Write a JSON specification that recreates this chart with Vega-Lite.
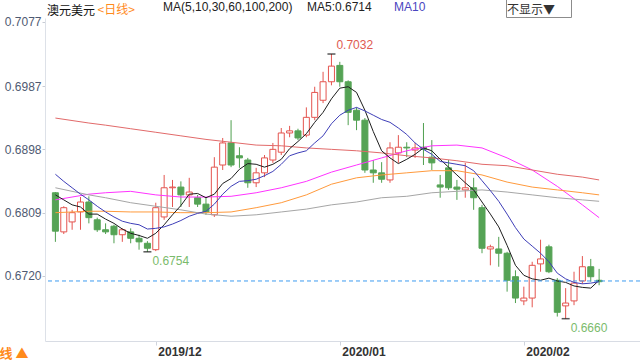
{
  "$schema": "https://vega.github.io/schema/vega-lite/v6.json",
  "width": 595,
  "height": 323,
  "autosize": {"type": "none"},
  "padding": {"left": 45, "top": 18, "right": 0, "bottom": 19},
  "background": "white",
  "config": {"view": {"stroke": null}, "font": "Liberation Sans"},
  "title": {"text": "澳元美元", "anchor": "start", "frame": "group", "dx": 2, "dy": 22, "fontSize": 12, "font": "Noto Sans CJK SC", "fontWeight": "normal", "color": "#111111", "offset": 2},
  "datasets": {
    "k": [
      {"i":0,"o":0.6837,"h":0.6838,"l":0.6768,"c":0.6783,"MA5":0.6834,"MA10":0.6863},
      {"i":1,"o":0.6782,"h":0.6818,"l":0.6779,"c":0.6816,"MA5":0.6827,"MA10":0.6853},
      {"i":2,"o":0.6796,"h":0.6813,"l":0.6785,"c":0.6809,"MA5":0.6820,"MA10":0.6844},
      {"i":3,"o":0.6810,"h":0.6831,"l":0.6785,"c":0.6824,"MA5":0.6817,"MA10":0.6835},
      {"i":4,"o":0.6824,"h":0.6832,"l":0.6794,"c":0.6802,"MA5":0.6807,"MA10":0.6827},
      {"i":5,"o":0.6799,"h":0.6802,"l":0.6782,"c":0.6785,"MA5":0.6807,"MA10":0.6818},
      {"i":6,"o":0.6785,"h":0.6794,"l":0.6779,"c":0.6782,"MA5":0.6800,"MA10":0.6810},
      {"i":7,"o":0.6790,"h":0.6792,"l":0.6766,"c":0.6778,"MA5":0.6794,"MA10":0.6803},
      {"i":8,"o":0.6778,"h":0.6787,"l":0.6768,"c":0.6785,"MA5":0.6786,"MA10":0.6797},
      {"i":9,"o":0.6782,"h":0.6787,"l":0.6766,"c":0.6773,"MA5":0.6780,"MA10":0.6794},
      {"i":10,"o":0.6773,"h":0.6778,"l":0.6757,"c":0.6768,"MA5":0.6777,"MA10":0.6792},
      {"i":11,"o":0.6766,"h":0.6769,"l":0.6754,"c":0.6759,"MA5":0.6773,"MA10":0.6786},
      {"i":12,"o":0.6757,"h":0.6823,"l":0.6755,"c":0.6816,"MA5":0.6780,"MA10":0.6787},
      {"i":13,"o":0.6803,"h":0.6862,"l":0.6799,"c":0.6844,"MA5":0.6792,"MA10":0.6789},
      {"i":14,"o":0.6844,"h":0.6855,"l":0.6817,"c":0.6845,"MA5":0.6806,"MA10":0.6793},
      {"i":15,"o":0.6845,"h":0.6853,"l":0.6817,"c":0.6834,"MA5":0.6819,"MA10":0.6798},
      {"i":16,"o":0.6834,"h":0.6858,"l":0.6817,"c":0.6838,"MA5":0.6835,"MA10":0.6804},
      {"i":17,"o":0.6830,"h":0.6834,"l":0.6817,"c":0.6821,"MA5":0.6836,"MA10":0.6808},
      {"i":18,"o":0.6821,"h":0.6831,"l":0.6806,"c":0.6810,"MA5":0.6830,"MA10":0.6811},
      {"i":19,"o":0.6806,"h":0.6887,"l":0.6803,"c":0.6873,"MA5":0.6835,"MA10":0.6821},
      {"i":20,"o":0.6876,"h":0.6914,"l":0.6869,"c":0.6907,"MA5":0.6850,"MA10":0.6835},
      {"i":21,"o":0.6907,"h":0.6939,"l":0.6873,"c":0.6876,"MA5":0.6857,"MA10":0.6846},
      {"i":22,"o":0.6889,"h":0.6901,"l":0.6872,"c":0.6886,"MA5":0.6870,"MA10":0.6853},
      {"i":23,"o":0.6883,"h":0.6886,"l":0.6844,"c":0.6851,"MA5":0.6878,"MA10":0.6854},
      {"i":24,"o":0.6851,"h":0.6872,"l":0.6845,"c":0.6865,"MA5":0.6877,"MA10":0.6856},
      {"i":25,"o":0.6865,"h":0.6890,"l":0.6859,"c":0.6886,"MA5":0.6873,"MA10":0.6861},
      {"i":26,"o":0.6883,"h":0.6907,"l":0.6879,"c":0.6898,"MA5":0.6877,"MA10":0.6867},
      {"i":27,"o":0.6894,"h":0.6928,"l":0.6890,"c":0.6921,"MA5":0.6884,"MA10":0.6877},
      {"i":28,"o":0.6921,"h":0.6931,"l":0.6915,"c":0.6924,"MA5":0.6899,"MA10":0.6889},
      {"i":29,"o":0.6924,"h":0.6927,"l":0.6911,"c":0.6914,"MA5":0.6909,"MA10":0.6893},
      {"i":30,"o":0.6918,"h":0.6957,"l":0.6915,"c":0.6943,"MA5":0.6920,"MA10":0.6896},
      {"i":31,"o":0.6943,"h":0.6986,"l":0.6939,"c":0.6978,"MA5":0.6936,"MA10":0.6907},
      {"i":32,"o":0.6967,"h":0.7007,"l":0.6963,"c":0.6993,"MA5":0.6950,"MA10":0.6917},
      {"i":33,"o":0.6993,"h":0.7032,"l":0.6988,"c":0.7015,"MA5":0.6969,"MA10":0.6934},
      {"i":34,"o":0.7016,"h":0.7021,"l":0.6986,"c":0.6993,"MA5":0.6984,"MA10":0.6946},
      {"i":35,"o":0.6993,"h":0.6995,"l":0.6932,"c":0.6950,"MA5":0.6986,"MA10":0.6953},
      {"i":36,"o":0.6953,"h":0.6957,"l":0.6925,"c":0.6939,"MA5":0.6978,"MA10":0.6957},
      {"i":37,"o":0.6939,"h":0.6942,"l":0.6865,"c":0.6869,"MA5":0.6953,"MA10":0.6952},
      {"i":38,"o":0.6869,"h":0.6883,"l":0.6851,"c":0.6865,"MA5":0.6923,"MA10":0.6946},
      {"i":39,"o":0.6865,"h":0.6880,"l":0.6851,"c":0.6856,"MA5":0.6896,"MA10":0.6940},
      {"i":40,"o":0.6855,"h":0.6908,"l":0.6851,"c":0.6900,"MA5":0.6886,"MA10":0.6936},
      {"i":41,"o":0.6893,"h":0.6918,"l":0.6879,"c":0.6901,"MA5":0.6878,"MA10":0.6928},
      {"i":42,"o":0.6901,"h":0.6908,"l":0.6887,"c":0.6900,"MA5":0.6884,"MA10":0.6919},
      {"i":43,"o":0.6897,"h":0.6907,"l":0.6886,"c":0.6900,"MA5":0.6891,"MA10":0.6907},
      {"i":44,"o":0.6901,"h":0.6935,"l":0.6876,"c":0.6898,"MA5":0.6900,"MA10":0.6898},
      {"i":45,"o":0.6887,"h":0.6911,"l":0.6869,"c":0.6879,"MA5":0.6896,"MA10":0.6891},
      {"i":46,"o":0.6848,"h":0.6862,"l":0.6830,"c":0.6845,"MA5":0.6884,"MA10":0.6881},
      {"i":47,"o":0.6872,"h":0.6883,"l":0.6841,"c":0.6844,"MA5":0.6873,"MA10":0.6879},
      {"i":48,"o":0.6845,"h":0.6855,"l":0.6827,"c":0.6842,"MA5":0.6862,"MA10":0.6877},
      {"i":49,"o":0.6841,"h":0.6879,"l":0.6830,"c":0.6844,"MA5":0.6851,"MA10":0.6875},
      {"i":50,"o":0.6844,"h":0.6858,"l":0.6813,"c":0.6830,"MA5":0.6841,"MA10":0.6868},
      {"i":51,"o":0.6816,"h":0.6820,"l":0.6752,"c":0.6759,"MA5":0.6824,"MA10":0.6854},
      {"i":52,"o":0.6758,"h":0.6764,"l":0.6735,"c":0.6761,"MA5":0.6807,"MA10":0.6840},
      {"i":53,"o":0.6758,"h":0.6775,"l":0.6733,"c":0.6752,"MA5":0.6789,"MA10":0.6825},
      {"i":54,"o":0.6752,"h":0.6754,"l":0.6698,"c":0.6714,"MA5":0.6763,"MA10":0.6807},
      {"i":55,"o":0.6719,"h":0.6728,"l":0.6682,"c":0.6689,"MA5":0.6735,"MA10":0.6788},
      {"i":56,"o":0.6685,"h":0.6705,"l":0.6679,"c":0.6689,"MA5":0.6721,"MA10":0.6772},
      {"i":57,"o":0.6689,"h":0.6740,"l":0.6676,"c":0.6735,"MA5":0.6716,"MA10":0.6762},
      {"i":58,"o":0.6737,"h":0.6771,"l":0.6726,"c":0.6744,"MA5":0.6714,"MA10":0.6752},
      {"i":59,"o":0.6761,"h":0.6764,"l":0.6724,"c":0.6726,"MA5":0.6717,"MA10":0.6740},
      {"i":60,"o":0.6714,"h":0.6717,"l":0.6663,"c":0.6669,"MA5":0.6713,"MA10":0.6724},
      {"i":61,"o":0.6678,"h":0.6703,"l":0.6660,"c":0.6682,"MA5":0.6711,"MA10":0.6716},
      {"i":62,"o":0.6685,"h":0.6726,"l":0.6679,"c":0.6710,"MA5":0.6706,"MA10":0.6711},
      {"i":63,"o":0.6713,"h":0.6748,"l":0.6709,"c":0.6733,"MA5":0.6704,"MA10":0.6709},
      {"i":64,"o":0.6733,"h":0.6744,"l":0.6712,"c":0.6719,"MA5":0.6703,"MA10":0.6710},
      {"i":65,"o":0.6714,"h":0.6730,"l":0.6707,"c":0.6712,"MA5":0.6714,"MA10":0.6712}
    ],
    "sm": [
      {"i":0,"MA30":0.6827,"MA60":0.6809,"MA100":0.6844,"MA200":0.6942},
      {"i":4,"MA30":0.6835,"MA60":0.6811,"MA100":0.6834,"MA200":0.6935},
      {"i":6,"MA30":0.6837,"MA60":0.6811,"MA100":0.6830,"MA200":0.6932},
      {"i":9,"MA30":0.6839,"MA60":0.6810,"MA100":0.6823,"MA200":0.6927},
      {"i":12,"MA30":0.6834,"MA60":0.6810,"MA100":0.6818,"MA200":0.6922},
      {"i":15,"MA30":0.6831,"MA60":0.6809,"MA100":0.6813,"MA200":0.6917},
      {"i":18,"MA30":0.6831,"MA60":0.6809,"MA100":0.6807,"MA200":0.6912},
      {"i":21,"MA30":0.6832,"MA60":0.6810,"MA100":0.6804,"MA200":0.6908},
      {"i":24,"MA30":0.6837,"MA60":0.6816,"MA100":0.6806,"MA200":0.6904},
      {"i":27,"MA30":0.6844,"MA60":0.6823,"MA100":0.6810,"MA200":0.6903},
      {"i":30,"MA30":0.6853,"MA60":0.6834,"MA100":0.6814,"MA200":0.6900},
      {"i":33,"MA30":0.6866,"MA60":0.6849,"MA100":0.6820,"MA200":0.6898},
      {"i":36,"MA30":0.6876,"MA60":0.6858,"MA100":0.6824,"MA200":0.6896},
      {"i":39,"MA30":0.6886,"MA60":0.6862,"MA100":0.6830,"MA200":0.6893},
      {"i":42,"MA30":0.6896,"MA60":0.6865,"MA100":0.6832,"MA200":0.6889},
      {"i":45,"MA30":0.6903,"MA60":0.6868,"MA100":0.6837,"MA200":0.6886},
      {"i":48,"MA30":0.6904,"MA60":0.6868,"MA100":0.6839,"MA200":0.6882},
      {"i":51,"MA30":0.6900,"MA60":0.6862,"MA100":0.6841,"MA200":0.6877},
      {"i":54,"MA30":0.6886,"MA60":0.6852,"MA100":0.6838,"MA200":0.6875},
      {"i":57,"MA30":0.6869,"MA60":0.6845,"MA100":0.6834,"MA200":0.6869},
      {"i":60,"MA30":0.6846,"MA60":0.6841,"MA100":0.6830,"MA200":0.6863},
      {"i":63,"MA30":0.6820,"MA60":0.6837,"MA100":0.6827,"MA200":0.6859},
      {"i":65,"MA30":0.6802,"MA60":0.6834,"MA100":0.6825,"MA200":0.6855}
    ],
    "ann": [
      {"i":33,"v":0.7032,"kind":"max"},
      {"i":11,"v":0.6754,"kind":"min"},
      {"i":61,"v":0.6660,"kind":"min"}
    ],
    "last": [{"v":0.6713,"kind":"last"}]
  },
  "layer": [
    {
      "data": {"name": "k"},
      "mark": {"type": "rule", "strokeWidth": 1},
      "encoding": {
        "x": {"field": "i", "type": "quantitative",
          "scale": {"domain": [-0.646, 69.29], "nice": false, "zero": false},
          "axis": {"values": [12, 34, 56], "labelExpr": "datum.value == 12 ? '2019/12' : datum.value == 34 ? '2020/01' : '2020/02'", "labelAlign": "left", "labelOffset": 2, "labelFontWeight": "bold", "labelColor": "#333333", "labelFontSize": 12, "labelPadding": 1, "tickSize": 4, "tickColor": "#d0d4dc", "domainColor": "#d8dce4", "grid": false,
            "title": "线 ▲", "titleX": -46, "titleY": 16, "titleAlign": "left", "titleBaseline": "alphabetic", "titleColor": "#ff8a1c", "titleFontWeight": "bold", "titleFontSize": 13, "titleFont": "Noto Sans CJK SC"}},
        "y": {"field": "l", "type": "quantitative",
          "scale": {"domain": [0.662864, 0.708262], "nice": false, "zero": false},
          "axis": {"values": [0.672, 0.6809, 0.6898, 0.6987, 0.7077], "format": ".4f", "labelColor": "#4f5a72", "labelFontSize": 12, "labelPadding": 1, "tickSize": 3, "tickColor": "#c8ccd4", "domainColor": "#dde1e8", "grid": false,
            "title": "<日线>", "titleAngle": 0, "titleX": 52, "titleY": -5, "titleAlign": "left", "titleBaseline": "alphabetic", "titleColor": "#ff8a1c", "titleFontWeight": "normal", "titleFontSize": 12, "titleFont": "Noto Sans CJK SC"}},
        "y2": {"field": "h"},
        "color": {"condition": {"test": "datum.c >= datum.o", "value": "#e4544f"}, "value": "#4f9f4f"}
      }
    },
    {
      "data": {"name": "k"},
      "mark": {"type": "bar", "width": 6, "strokeWidth": 1},
      "encoding": {
        "x": {"field": "i", "type": "quantitative"},
        "y": {"field": "o", "type": "quantitative"},
        "y2": {"field": "c"},
        "fill": {"condition": {"test": "datum.c >= datum.o", "value": "#ffffff"}, "value": "#55a355"},
        "stroke": {"condition": {"test": "datum.c >= datum.o", "value": "#e4544f"}, "value": "#55a355"}
      }
    },
    {
      "data": {"name": "sm"},
      "transform": [{"fold": ["MA30", "MA60", "MA100", "MA200"], "as": ["ma", "v"]}],
      "mark": {"type": "line", "strokeWidth": 1},
      "encoding": {
        "x": {"field": "i", "type": "quantitative"},
        "y": {"field": "v", "type": "quantitative"},
        "color": {"field": "ma", "type": "nominal",
          "scale": {"domain": ["MA5", "MA10", "MA30", "MA60", "MA100", "MA200"], "range": ["#1e1e1e", "#3e3eb8", "#ff33ff", "#ff9a3c", "#a6a6a6", "#e26a6a"]},
          "legend": {"values": ["MA5", "MA10"], "orient": "none", "legendX": 118, "legendY": -17, "direction": "horizontal",
            "title": "MA(5,10,30,60,100,200)", "titleOrient": "left", "titleFontWeight": "normal", "titleFontSize": 12, "titleColor": "#222222", "titlePadding": 2,
            "labelExpr": "datum.value == 'MA5' ? 'MA5:0.6714' : datum.value", "labelFontSize": 12, "symbolSize": 0, "symbolStrokeWidth": 0, "labelOffset": 0, "columnPadding": 10,
            "encode": {"labels": {"update": {"fill": {"signal": "datum.value == 'MA10' ? '#4a45c0' : '#222222'"}}}}}}
      }
    },
    {
      "data": {"name": "k"},
      "transform": [{"fold": ["MA5", "MA10"], "as": ["ma", "v"]}],
      "mark": {"type": "line", "strokeWidth": 1},
      "encoding": {
        "x": {"field": "i", "type": "quantitative"},
        "y": {"field": "v", "type": "quantitative"},
        "color": {"field": "ma", "type": "nominal"}
      }
    },
    {
      "data": {"name": "last"},
      "mark": {"type": "rule", "color": "#3d9bf0", "strokeWidth": 1},
      "encoding": {
        "y": {"field": "v", "type": "quantitative"},
        "strokeDash": {"field": "kind", "type": "nominal",
          "scale": {"domain": ["last"], "range": [[4, 3]]},
          "legend": {"orient": "none", "legendX": 461, "legendY": -20, "title": "不显示▼", "titleOrient": "left", "titleBaseline": "top", "titleFontSize": 12, "titleFont": "Noto Sans CJK SC", "titleFontWeight": "normal", "titleColor": "#333333", "titlePadding": 2,
            "strokeColor": "#8c8c8c", "padding": 1, "symbolType": "square", "symbolSize": 144, "symbolOpacity": 0, "symbolStrokeWidth": 0, "labelExpr": "''", "labelFontSize": 12, "labelOffset": 0}}
      }
    },
    {
      "data": {"name": "ann"},
      "mark": {"type": "tick", "orient": "horizontal", "color": "#111111", "size": 8, "thickness": 1.5},
      "encoding": {
        "x": {"field": "i", "type": "quantitative"},
        "y": {"field": "v", "type": "quantitative"}
      }
    },
    {
      "data": {"name": "ann"},
      "transform": [{"filter": "datum.kind == 'max'"}],
      "mark": {"type": "text", "align": "left", "dx": 5, "dy": -9, "fontSize": 12, "color": "#e05a50"},
      "encoding": {
        "x": {"field": "i", "type": "quantitative"},
        "y": {"field": "v", "type": "quantitative"},
        "text": {"field": "v", "type": "quantitative", "format": ".4f"}
      }
    },
    {
      "data": {"name": "ann"},
      "transform": [{"filter": "datum.kind == 'min'"}],
      "mark": {"type": "text", "align": "left", "dx": 5, "dy": 9, "fontSize": 12, "color": "#7bbb6c"},
      "encoding": {
        "x": {"field": "i", "type": "quantitative"},
        "y": {"field": "v", "type": "quantitative"},
        "text": {"field": "v", "type": "quantitative", "format": ".4f"}
      }
    }
  ]
}
